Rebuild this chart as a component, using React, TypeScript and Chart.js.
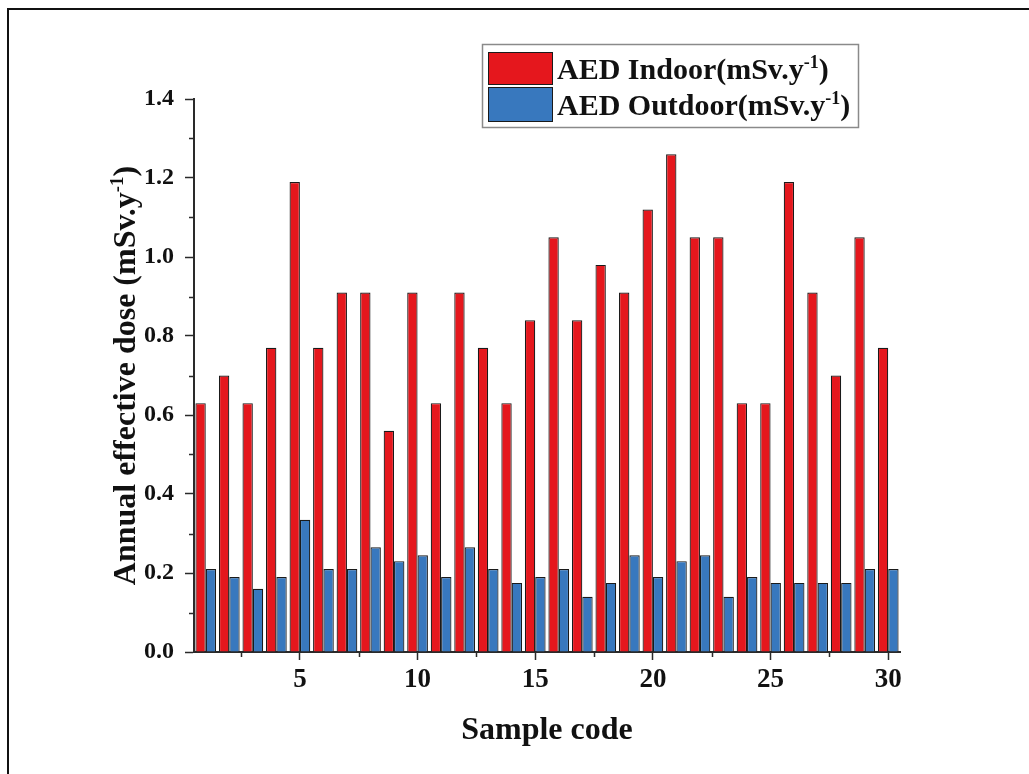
import React, { useEffect, useRef } from "react";
import { Chart, registerables } from "chart.js";

Chart.register(...registerables);

// ---- data ----
const sampleCodes = [
  1, 2, 3, 4, 5, 6, 7, 8, 9, 10, 11, 12, 13, 14, 15,
  16, 17, 18, 19, 20, 21, 22, 23, 24, 25, 26, 27, 28, 29, 30,
];
const aedIndoor = [
  0.63, 0.70, 0.63, 0.77, 1.19, 0.77, 0.91, 0.91, 0.56, 0.91,
  0.63, 0.91, 0.77, 0.63, 0.84, 1.05, 0.84, 0.98, 0.91, 1.12,
  1.26, 1.05, 1.05, 0.63, 0.63, 1.19, 0.91, 0.70, 1.05, 0.77,
];
const aedOutdoor = [
  0.21, 0.19, 0.16, 0.19, 0.335, 0.21, 0.21, 0.265, 0.23, 0.245,
  0.19, 0.265, 0.21, 0.175, 0.19, 0.21, 0.14, 0.175, 0.245, 0.19,
  0.23, 0.245, 0.14, 0.19, 0.175, 0.175, 0.175, 0.175, 0.21, 0.21,
];
const seriesLabels = ["AED Indoor(mSv.y^{-1})", "AED Outdoor(mSv.y^{-1})"];
const xMajorTicks = [5, 10, 15, 20, 25, 30];
const xMinorTicks = [2.5, 7.5, 12.5, 17.5, 22.5, 27.5];
const yMajorTicks = [0, 0.2, 0.4, 0.6, 0.8, 1.0, 1.2, 1.4];
const yMinorTicks = [0.1, 0.3, 0.5, 0.7, 0.9, 1.1, 1.3];
const xTitle = "Sample code";
const yTitle = "Annual effective dose (mSv.y^{-1})";

// ---- styles ----
const SERIF = "'Liberation Serif', 'Times New Roman', serif";
const RED = "#E5171D";
const BLUE = "#3878BE";
const AXIS = "#2a2a2a";

type Seg = { t: string; sup: boolean };
function splitSup(text: string): Seg[] {
  const segs: Seg[] = [];
  const re = /\^\{([^}]*)\}/g;
  let last = 0;
  let m: RegExpExecArray | null;
  while ((m = re.exec(text))) {
    if (m.index > last) segs.push({ t: text.slice(last, m.index), sup: false });
    segs.push({ t: m[1], sup: true });
    last = m.index + m[0].length;
  }
  if (last < text.length) segs.push({ t: text.slice(last), sup: false });
  return segs;
}

function drawRich(
  ctx: CanvasRenderingContext2D,
  text: string,
  x: number,
  y: number,
  size: number,
  align: "left" | "center"
) {
  const segs = splitSup(text);
  const supSize = Math.round(size * 0.6);
  const fontFor = (s: Seg) => `bold ${s.sup ? supSize : size}px ${SERIF}`;
  let total = 0;
  for (const s of segs) {
    ctx.font = fontFor(s);
    total += ctx.measureText(s.t).width;
  }
  let cx = align === "center" ? x - total / 2 : x;
  ctx.textAlign = "left";
  ctx.textBaseline = "alphabetic";
  ctx.fillStyle = "#111";
  for (const s of segs) {
    ctx.font = fontFor(s);
    ctx.fillText(s.t, cx, s.sup ? y - size * 0.38 : y);
    cx += ctx.measureText(s.t).width;
  }
}

const decorPlugin = {
  id: "decor",
  beforeDraw(chart: any) {
    const ctx: CanvasRenderingContext2D = chart.ctx;
    ctx.save();
    ctx.fillStyle = "#fff";
    ctx.fillRect(0, 0, chart.width, chart.height);
    // figure frame
    ctx.fillStyle = "#111";
    ctx.fillRect(7, 8, 2, chart.height - 8);
    ctx.fillRect(7, 8, chart.width - 7, 2);
    ctx.restore();
  },
  afterDraw(chart: any) {
    const ctx: CanvasRenderingContext2D = chart.ctx;
    const xs = chart.scales.x;
    const ys = chart.scales.y;
    const area = chart.chartArea;
    ctx.save();
    // minor ticks
    ctx.strokeStyle = AXIS;
    ctx.lineWidth = 1.5;
    ctx.beginPath();
    for (const v of xMinorTicks) {
      const px = Math.round(xs.getPixelForValue(v)) + 0.5;
      ctx.moveTo(px, area.bottom);
      ctx.lineTo(px, area.bottom + 5);
    }
    for (const v of yMinorTicks) {
      const py = Math.round(ys.getPixelForValue(v)) + 0.5;
      ctx.moveTo(area.left, py);
      ctx.lineTo(area.left - 5, py);
    }
    ctx.stroke();

    // axis titles
    drawRich(ctx, xTitle, (area.left + area.right) / 2, 739, 32, "center");
    ctx.save();
    ctx.translate(124, (area.top + area.bottom) / 2);
    ctx.rotate(-Math.PI / 2);
    drawRich(ctx, yTitle, 0, 11, 32, "center");
    ctx.restore();

    // legend
    const lx = 482.5, ly = 44.5, lw = 376, lh = 83;
    ctx.strokeStyle = "#8a8a8a";
    ctx.lineWidth = 1.5;
    ctx.strokeRect(lx, ly, lw, lh);
    const rows = [
      { top: 52, h: 33, base: 79 },
      { top: 87, h: 35, base: 115 },
    ];
    chart.data.datasets.forEach((ds: any, i: number) => {
      const r = rows[i];
      ctx.fillStyle = ds.backgroundColor;
      ctx.fillRect(488, r.top, 65, r.h);
      ctx.strokeStyle = "#1a1a1a";
      ctx.lineWidth = 1;
      ctx.strokeRect(488.5, r.top + 0.5, 64, r.h - 1);
      drawRich(ctx, ds.label, 557, r.base, 30, "left");
    });
    ctx.restore();
  },
};

export default function App() {
  const ref = useRef<HTMLCanvasElement | null>(null);

  useEffect(() => {
    if (!ref.current) return;
    const chart = new Chart(ref.current, {
      type: "bar",
      data: {
        datasets: [
          {
            label: seriesLabels[0],
            data: sampleCodes.map((c, i) => ({ x: c, y: aedIndoor[i] })),
            backgroundColor: RED,
            borderColor: "#1a1a1a",
            borderWidth: 1.2,
          },
          {
            label: seriesLabels[1],
            data: sampleCodes.map((c, i) => ({ x: c, y: aedOutdoor[i] })),
            backgroundColor: BLUE,
            borderColor: "#1a1a1a",
            borderWidth: 1.2,
          },
        ],
      },
      options: {
        responsive: false,
        animation: false,
        devicePixelRatio: 1,
        categoryPercentage: 0.88,
        barPercentage: 1,
        layout: { padding: { left: 134, right: 129, top: 99, bottom: 62 } },
        plugins: {
          legend: { display: false },
          title: { display: false },
          tooltip: { enabled: false },
        },
        scales: {
          x: {
            type: "linear",
            min: 0.5,
            max: 30.5,
            offset: false,
            afterBuildTicks: (s: any) => {
              s.ticks = xMajorTicks.map((v) => ({ value: v }));
            },
            afterFit: (s: any) => {
              s.height = 60;
            },
            grid: {
              display: true,
              drawOnChartArea: false,
              drawTicks: true,
              tickLength: 8,
              tickColor: AXIS,
              tickWidth: 1.5,
              offset: false,
            },
            border: { display: true, color: AXIS, width: 2 },
            ticks: {
              autoSkip: false,
              maxRotation: 0,
              padding: 4,
              color: "#111",
              font: { family: SERIF, size: 27, weight: "bold" },
              callback: (v: any) => String(v),
            },
          },
          y: {
            type: "linear",
            min: 0,
            max: 1.4,
            afterBuildTicks: (s: any) => {
              s.ticks = yMajorTicks.map((v) => ({ value: v }));
            },
            afterFit: (s: any) => {
              s.width = 60;
            },
            grid: {
              display: true,
              drawOnChartArea: false,
              drawTicks: true,
              tickLength: 9,
              tickColor: AXIS,
              tickWidth: 1.5,
            },
            border: { display: true, color: AXIS, width: 2 },
            ticks: {
              padding: 11,
              color: "#111",
              font: { family: SERIF, size: 24, weight: "bold" },
              callback: (v: any) => Number(v).toFixed(1),
            },
          },
        },
      } as any,
      plugins: [decorPlugin],
    });
    return () => chart.destroy();
  }, []);

  return (
    <div
      style={{
        position: "fixed",
        left: 0,
        top: 0,
        width: 1029,
        height: 774,
        overflow: "hidden",
        background: "#fff",
      }}
    >
      <canvas
        ref={ref}
        width={1029}
        height={774}
        style={{ display: "block", width: 1029, height: 774 }}
      />
    </div>
  );
}
